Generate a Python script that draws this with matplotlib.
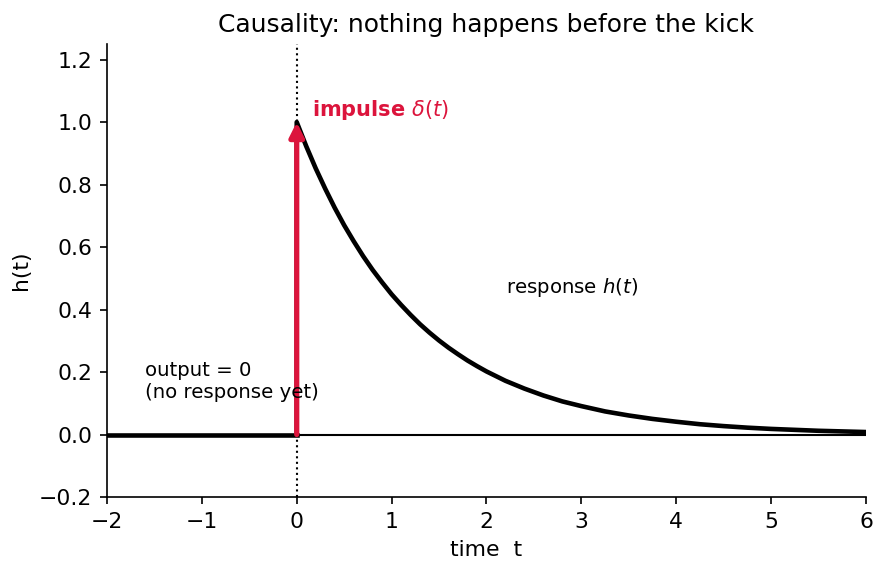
import numpy as np
import matplotlib
matplotlib.use("Agg")
import matplotlib.pyplot as plt

# before the kick: nothing
t_before = [-2.0, 0.0]
h_before = [0.0, 0.0]

# after the kick: decaying response
t_after = [0.0, 0.0, 0.1, 0.2, 0.3, 0.4, 0.5, 0.6, 0.7, 0.8, 0.9, 1.0,
           1.1, 1.2, 1.3, 1.4, 1.5, 1.6, 1.7, 1.8, 1.9, 2.0,
           2.2, 2.4, 2.6, 2.8, 3.0, 3.25, 3.5, 3.75, 4.0, 4.25, 4.5, 4.75,
           5.0, 5.25, 5.5, 5.75, 6.0]
h_after = [0.0, 1.000, 0.923, 0.852, 0.787, 0.726, 0.670, 0.619, 0.571, 0.527, 0.487, 0.449,
           0.415, 0.383, 0.353, 0.326, 0.301, 0.278, 0.257, 0.237, 0.219, 0.202,
           0.172, 0.147, 0.125, 0.106, 0.091, 0.074, 0.061, 0.050, 0.041, 0.033, 0.027, 0.022,
           0.018, 0.015, 0.012, 0.010, 0.008]

impulse_t = 0.0
impulse_h = 1.0

red = "crimson"

fig = plt.figure(figsize=(887 / 150, 573 / 150), dpi=150)
ax = fig.add_axes([0.1206, 0.1326, 0.8557, 0.7906])

ax.axhline(0, color="black", lw=1)
ax.axvline(0, color="black", lw=1, linestyle=":")

ax.plot(t_before, h_before, color="black", lw=2.2)
ax.plot(t_after, h_after, color="black", lw=2.2)

# impulse arrow
ax.annotate("", xy=(impulse_t, impulse_h), xytext=(impulse_t, 0),
            arrowprops=dict(arrowstyle="-|>", color=red, lw=2.5,
                            mutation_scale=14, shrinkA=0, shrinkB=0))
ax.text(0.16, 1.04, r"impulse $\delta(t)$", color=red, fontsize=10,
        fontweight="bold", va="center", ha="left")

ax.text(-1.6, 0.17, "output = 0\n(no response yet)", fontsize=9.5,
        va="center", ha="left")
ax.text(2.21, 0.47, r"response $h(t)$", fontsize=9.5, va="center", ha="left")

ax.set_xlim(-2, 6)
ax.set_ylim(-0.2, 1.25)
ax.set_xticks(np.arange(-2, 7, 1))
ax.set_yticks(np.arange(-0.2, 1.21, 0.2))
ax.set_xlabel("time  t", fontsize=10.5)
ax.set_ylabel("h(t)", fontsize=10.5)
ax.set_title("Causality: nothing happens before the kick", fontsize=12)
ax.tick_params(labelsize=10.5)
ax.spines["top"].set_visible(False)
ax.spines["right"].set_visible(False)

fig.savefig("out.png", dpi=150)
